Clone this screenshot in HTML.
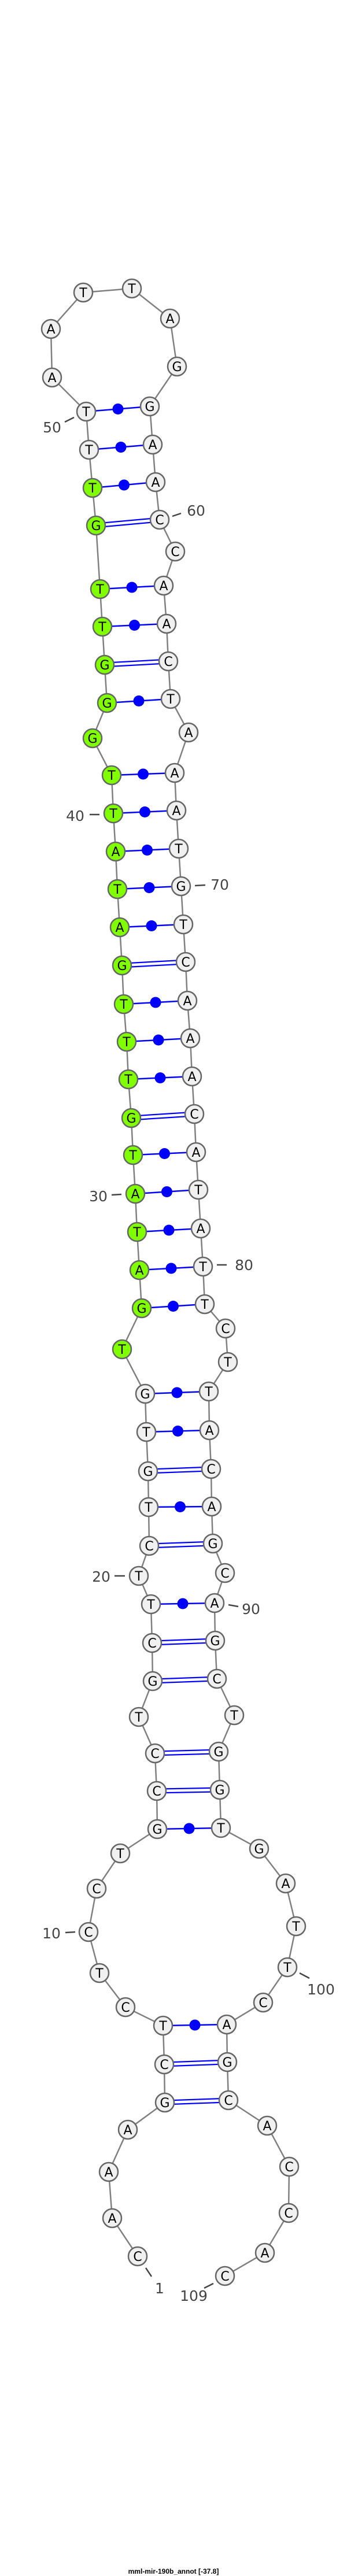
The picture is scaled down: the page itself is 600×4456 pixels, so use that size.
<!DOCTYPE html>
<html><head><meta charset="utf-8"><style>
html,body{margin:0;padding:0;background:#fff;}
svg{display:block;}
.n circle{stroke:#666;stroke-width:2.5;fill:#f0f0f0;}
.n circle.g{fill:#80ff00;}
.n text{font-family:"DejaVu Sans","Liberation Sans",sans-serif;font-size:22px;text-anchor:middle;fill:#000;}
.lb{font-family:"DejaVu Sans","Liberation Sans",sans-serif;font-size:25px;fill:#444;text-anchor:middle;}
</style></head><body>
<svg width="600" height="4456" viewBox="0 0 600 4456" xmlns="http://www.w3.org/2000/svg">
<polyline fill="none" stroke="#808080" stroke-width="2.5" points="238,3903 194,3837 188,3757 221,3684 285,3637 284,3571 282,3504 217,3472 172,3413 153,3342 167,3267 208,3206 272,3164 271,3098 268,3033 240,2970 264,2908 263,2842 261,2775 240,2726 258,2674 257,2607 256,2545 253,2477 251,2411 211,2334 245,2263 241,2197 237,2131 234,2065 230,1998 227,1934 222,1867 219,1802 214,1737 211,1670 207,1604 203,1538 200,1473 196,1407 193,1341 160,1277 185,1216 181,1150 177,1084 173,1019 166,909 160,844 154,778 149,712 90,653 88,569 144,506 228,499 294,551 306,634 259,703 264,769 269,834 276,899 303,954 283,1013 288,1079 291,1144 295,1209 326,1267 302,1337 305,1402 309,1468 313,1533 317,1599 321,1664 324,1731 329,1796 332,1862 336,1927 339,1993 343,2058 347,2125 351,2191 354,2256 390,2298 394,2356 361,2407 362,2474 365,2541 366,2606 368,2670 389,2721 371,2773 372,2838 375,2904 405,2967 378,3030 380,3096 382,3162 448,3198 494,3258 512,3332 497,3403 455,3464 392,3502 393,3567 395,3633 462,3677 500,3748 499,3828 458,3897 389,3937"/>
<!-- single pairs -->
<g stroke="#0000ff" stroke-width="2.5">
<line x1="282" y1="3504" x2="392" y2="3502"/>
<line x1="272" y1="3164" x2="382" y2="3162"/>
<line x1="261" y1="2775" x2="371" y2="2773"/>
<line x1="257" y1="2607" x2="366" y2="2606"/>
<line x1="253" y1="2477" x2="362" y2="2474"/>
<line x1="251" y1="2411" x2="361" y2="2407"/>
<line x1="245" y1="2263" x2="354" y2="2256"/>
<line x1="241" y1="2197" x2="351" y2="2191"/>
<line x1="237" y1="2131" x2="347" y2="2125"/>
<line x1="234" y1="2065" x2="343" y2="2058"/>
<line x1="230" y1="1998" x2="339" y2="1993"/>
<line x1="222" y1="1867" x2="332" y2="1862"/>
<line x1="219" y1="1802" x2="329" y2="1796"/>
<line x1="214" y1="1737" x2="324" y2="1731"/>
<line x1="207" y1="1604" x2="317" y2="1599"/>
<line x1="203" y1="1538" x2="313" y2="1533"/>
<line x1="200" y1="1473" x2="309" y2="1468"/>
<line x1="196" y1="1407" x2="305" y2="1402"/>
<line x1="193" y1="1341" x2="302" y2="1337"/>
<line x1="185" y1="1216" x2="295" y2="1209"/>
<line x1="177" y1="1084" x2="288" y2="1079"/>
<line x1="173" y1="1019" x2="283" y2="1013"/>
<line x1="160" y1="844" x2="269" y2="834"/>
<line x1="154" y1="778" x2="264" y2="769"/>
<line x1="149" y1="712" x2="259" y2="703"/>
</g>
<g fill="#0000ff">
<circle cx="337" cy="3503" r="9.5"/><circle cx="327" cy="3163" r="9.5"/><circle cx="316" cy="2774" r="9.5"/>
<circle cx="311.5" cy="2606.5" r="9.5"/><circle cx="307.5" cy="2475.5" r="9.5"/><circle cx="306" cy="2409" r="9.5"/>
<circle cx="299.5" cy="2259.5" r="9.5"/><circle cx="296" cy="2194" r="9.5"/><circle cx="292" cy="2128" r="9.5"/>
<circle cx="288.5" cy="2061.5" r="9.5"/><circle cx="284.5" cy="1995.5" r="9.5"/><circle cx="277" cy="1864.5" r="9.5"/>
<circle cx="274" cy="1799" r="9.5"/><circle cx="269" cy="1734" r="9.5"/><circle cx="262" cy="1601.5" r="9.5"/>
<circle cx="258" cy="1535.5" r="9.5"/><circle cx="254.5" cy="1470.5" r="9.5"/><circle cx="250.5" cy="1404.5" r="9.5"/>
<circle cx="247.5" cy="1339" r="9.5"/><circle cx="240" cy="1212.5" r="9.5"/><circle cx="232.5" cy="1081.5" r="9.5"/>
<circle cx="228" cy="1016" r="9.5"/><circle cx="214.5" cy="839" r="9.5"/><circle cx="209" cy="773.5" r="9.5"/>
<circle cx="204" cy="707.5" r="9.5"/>
</g>
<!-- double pairs -->
<g stroke="#0000ff" stroke-width="9">
<line x1="285" y1="3637" x2="395" y2="3633"/><line x1="284" y1="3571" x2="393" y2="3567"/>
<line x1="271" y1="3098" x2="380" y2="3096"/><line x1="268" y1="3033" x2="378" y2="3030"/>
<line x1="264" y1="2908" x2="375" y2="2904"/><line x1="263" y1="2842" x2="372" y2="2838"/>
<line x1="258" y1="2674" x2="368" y2="2670"/><line x1="256" y1="2545" x2="365" y2="2541"/>
<line x1="227" y1="1934" x2="336" y2="1927"/><line x1="211" y1="1670" x2="321" y2="1664"/>
<line x1="181" y1="1150" x2="291" y2="1144"/><line x1="166" y1="909" x2="276" y2="899"/>
</g>
<g stroke="#ffffff" stroke-width="4.5">
<line x1="285" y1="3637" x2="395" y2="3633"/><line x1="284" y1="3571" x2="393" y2="3567"/>
<line x1="271" y1="3098" x2="380" y2="3096"/><line x1="268" y1="3033" x2="378" y2="3030"/>
<line x1="264" y1="2908" x2="375" y2="2904"/><line x1="263" y1="2842" x2="372" y2="2838"/>
<line x1="258" y1="2674" x2="368" y2="2670"/><line x1="256" y1="2545" x2="365" y2="2541"/>
<line x1="227" y1="1934" x2="336" y2="1927"/><line x1="211" y1="1670" x2="321" y2="1664"/>
<line x1="181" y1="1150" x2="291" y2="1144"/><line x1="166" y1="909" x2="276" y2="899"/>
</g>
<!-- number ticks -->
<g stroke="#444" stroke-width="2.5">
<line x1="112" y1="730" x2="128" y2="722"/>
<line x1="298" y1="893" x2="313" y2="888"/>
<line x1="155" y1="1409" x2="172" y2="1409"/>
<line x1="337" y1="1532" x2="355" y2="1531"/>
<line x1="193" y1="2067" x2="210" y2="2066"/>
<line x1="375" y1="2188" x2="392" y2="2188"/>
<line x1="198" y1="2726" x2="216" y2="2726"/>
<line x1="395" y1="2776" x2="412" y2="2779"/>
<line x1="113" y1="3343" x2="130" y2="3342"/>
<line x1="518" y1="3413" x2="535" y2="3422"/>
<line x1="252" y1="3923" x2="262" y2="3938"/>
<line x1="353" y1="3958" x2="369" y2="3950"/>
</g>
<g class="lb">
<text x="90" y="748">50</text>
<text x="339" y="892">60</text>
<text x="130" y="1420">40</text>
<text x="380" y="1539">70</text>
<text x="170" y="2078">30</text>
<text x="422" y="2197">80</text>
<text x="175" y="2736">20</text>
<text x="434" y="2792">90</text>
<text x="89" y="3353">10</text>
<text x="555" y="3450">100</text>
<text x="276" y="3967">1</text>
<text x="335" y="3980">109</text>
</g>
<g class="n">
<circle cx="238" cy="3903" r="16"/><text x="238" y="3911">C</text>
<circle cx="194" cy="3837" r="16"/><text x="194" y="3845">A</text>
<circle cx="188" cy="3757" r="16"/><text x="188" y="3765">A</text>
<circle cx="221" cy="3684" r="16"/><text x="221" y="3692">A</text>
<circle cx="285" cy="3637" r="16"/><text x="285" y="3645">G</text>
<circle cx="284" cy="3571" r="16"/><text x="284" y="3579">C</text>
<circle cx="282" cy="3504" r="16"/><text x="282" y="3512">T</text>
<circle cx="217" cy="3472" r="16"/><text x="217" y="3480">C</text>
<circle cx="172" cy="3413" r="16"/><text x="172" y="3421">T</text>
<circle cx="153" cy="3342" r="16"/><text x="153" y="3350">C</text>
<circle cx="167" cy="3267" r="16"/><text x="167" y="3275">C</text>
<circle cx="208" cy="3206" r="16"/><text x="208" y="3214">T</text>
<circle cx="272" cy="3164" r="16"/><text x="272" y="3172">G</text>
<circle cx="271" cy="3098" r="16"/><text x="271" y="3106">C</text>
<circle cx="268" cy="3033" r="16"/><text x="268" y="3041">C</text>
<circle cx="240" cy="2970" r="16"/><text x="240" y="2978">T</text>
<circle cx="264" cy="2908" r="16"/><text x="264" y="2916">G</text>
<circle cx="263" cy="2842" r="16"/><text x="263" y="2850">C</text>
<circle cx="261" cy="2775" r="16"/><text x="261" y="2783">T</text>
<circle cx="240" cy="2726" r="16"/><text x="240" y="2734">T</text>
<circle cx="258" cy="2674" r="16"/><text x="258" y="2682">C</text>
<circle cx="257" cy="2607" r="16"/><text x="257" y="2615">T</text>
<circle cx="256" cy="2545" r="16"/><text x="256" y="2553">G</text>
<circle cx="253" cy="2477" r="16"/><text x="253" y="2485">T</text>
<circle cx="251" cy="2411" r="16"/><text x="251" y="2419">G</text>
<circle class="g" cx="211" cy="2334" r="16"/><text x="211" y="2342">T</text>
<circle class="g" cx="245" cy="2263" r="16"/><text x="245" y="2271">G</text>
<circle class="g" cx="241" cy="2197" r="16"/><text x="241" y="2205">A</text>
<circle class="g" cx="237" cy="2131" r="16"/><text x="237" y="2139">T</text>
<circle class="g" cx="234" cy="2065" r="16"/><text x="234" y="2073">A</text>
<circle class="g" cx="230" cy="1998" r="16"/><text x="230" y="2006">T</text>
<circle class="g" cx="227" cy="1934" r="16"/><text x="227" y="1942">G</text>
<circle class="g" cx="222" cy="1867" r="16"/><text x="222" y="1875">T</text>
<circle class="g" cx="219" cy="1802" r="16"/><text x="219" y="1810">T</text>
<circle class="g" cx="214" cy="1737" r="16"/><text x="214" y="1745">T</text>
<circle class="g" cx="211" cy="1670" r="16"/><text x="211" y="1678">G</text>
<circle class="g" cx="207" cy="1604" r="16"/><text x="207" y="1612">A</text>
<circle class="g" cx="203" cy="1538" r="16"/><text x="203" y="1546">T</text>
<circle class="g" cx="200" cy="1473" r="16"/><text x="200" y="1481">A</text>
<circle class="g" cx="196" cy="1407" r="16"/><text x="196" y="1415">T</text>
<circle class="g" cx="193" cy="1341" r="16"/><text x="193" y="1349">T</text>
<circle class="g" cx="160" cy="1277" r="16"/><text x="160" y="1285">G</text>
<circle class="g" cx="185" cy="1216" r="16"/><text x="185" y="1224">G</text>
<circle class="g" cx="181" cy="1150" r="16"/><text x="181" y="1158">G</text>
<circle class="g" cx="177" cy="1084" r="16"/><text x="177" y="1092">T</text>
<circle class="g" cx="173" cy="1019" r="16"/><text x="173" y="1027">T</text>
<circle class="g" cx="166" cy="909" r="16"/><text x="166" y="917">G</text>
<circle class="g" cx="160" cy="844" r="16"/><text x="160" y="852">T</text>
<circle cx="154" cy="778" r="16"/><text x="154" y="786">T</text>
<circle cx="149" cy="712" r="16"/><text x="149" y="720">T</text>
<circle cx="90" cy="653" r="16"/><text x="90" y="661">A</text>
<circle cx="88" cy="569" r="16"/><text x="88" y="577">A</text>
<circle cx="144" cy="506" r="16"/><text x="144" y="514">T</text>
<circle cx="228" cy="499" r="16"/><text x="228" y="507">T</text>
<circle cx="294" cy="551" r="16"/><text x="294" y="559">A</text>
<circle cx="306" cy="634" r="16"/><text x="306" y="642">G</text>
<circle cx="259" cy="703" r="16"/><text x="259" y="711">G</text>
<circle cx="264" cy="769" r="16"/><text x="264" y="777">A</text>
<circle cx="269" cy="834" r="16"/><text x="269" y="842">A</text>
<circle cx="276" cy="899" r="16"/><text x="276" y="907">C</text>
<circle cx="303" cy="954" r="16"/><text x="303" y="962">C</text>
<circle cx="283" cy="1013" r="16"/><text x="283" y="1021">A</text>
<circle cx="288" cy="1079" r="16"/><text x="288" y="1087">A</text>
<circle cx="291" cy="1144" r="16"/><text x="291" y="1152">C</text>
<circle cx="295" cy="1209" r="16"/><text x="295" y="1217">T</text>
<circle cx="326" cy="1267" r="16"/><text x="326" y="1275">A</text>
<circle cx="302" cy="1337" r="16"/><text x="302" y="1345">A</text>
<circle cx="305" cy="1402" r="16"/><text x="305" y="1410">A</text>
<circle cx="309" cy="1468" r="16"/><text x="309" y="1476">T</text>
<circle cx="313" cy="1533" r="16"/><text x="313" y="1541">G</text>
<circle cx="317" cy="1599" r="16"/><text x="317" y="1607">T</text>
<circle cx="321" cy="1664" r="16"/><text x="321" y="1672">C</text>
<circle cx="324" cy="1731" r="16"/><text x="324" y="1739">A</text>
<circle cx="329" cy="1796" r="16"/><text x="329" y="1804">A</text>
<circle cx="332" cy="1862" r="16"/><text x="332" y="1870">A</text>
<circle cx="336" cy="1927" r="16"/><text x="336" y="1935">C</text>
<circle cx="339" cy="1993" r="16"/><text x="339" y="2001">A</text>
<circle cx="343" cy="2058" r="16"/><text x="343" y="2066">T</text>
<circle cx="347" cy="2125" r="16"/><text x="347" y="2133">A</text>
<circle cx="351" cy="2191" r="16"/><text x="351" y="2199">T</text>
<circle cx="354" cy="2256" r="16"/><text x="354" y="2264">T</text>
<circle cx="390" cy="2298" r="16"/><text x="390" y="2306">C</text>
<circle cx="394" cy="2356" r="16"/><text x="394" y="2364">T</text>
<circle cx="361" cy="2407" r="16"/><text x="361" y="2415">T</text>
<circle cx="362" cy="2474" r="16"/><text x="362" y="2482">A</text>
<circle cx="365" cy="2541" r="16"/><text x="365" y="2549">C</text>
<circle cx="366" cy="2606" r="16"/><text x="366" y="2614">A</text>
<circle cx="368" cy="2670" r="16"/><text x="368" y="2678">G</text>
<circle cx="389" cy="2721" r="16"/><text x="389" y="2729">C</text>
<circle cx="371" cy="2773" r="16"/><text x="371" y="2781">A</text>
<circle cx="372" cy="2838" r="16"/><text x="372" y="2846">G</text>
<circle cx="375" cy="2904" r="16"/><text x="375" y="2912">C</text>
<circle cx="405" cy="2967" r="16"/><text x="405" y="2975">T</text>
<circle cx="378" cy="3030" r="16"/><text x="378" y="3038">G</text>
<circle cx="380" cy="3096" r="16"/><text x="380" y="3104">G</text>
<circle cx="382" cy="3162" r="16"/><text x="382" y="3170">T</text>
<circle cx="448" cy="3198" r="16"/><text x="448" y="3206">G</text>
<circle cx="494" cy="3258" r="16"/><text x="494" y="3266">A</text>
<circle cx="512" cy="3332" r="16"/><text x="512" y="3340">T</text>
<circle cx="497" cy="3403" r="16"/><text x="497" y="3411">T</text>
<circle cx="455" cy="3464" r="16"/><text x="455" y="3472">C</text>
<circle cx="392" cy="3502" r="16"/><text x="392" y="3510">A</text>
<circle cx="393" cy="3567" r="16"/><text x="393" y="3575">G</text>
<circle cx="395" cy="3633" r="16"/><text x="395" y="3641">C</text>
<circle cx="462" cy="3677" r="16"/><text x="462" y="3685">A</text>
<circle cx="500" cy="3748" r="16"/><text x="500" y="3756">C</text>
<circle cx="499" cy="3828" r="16"/><text x="499" y="3836">C</text>
<circle cx="458" cy="3897" r="16"/><text x="458" y="3905">A</text>
<circle cx="389" cy="3937" r="16"/><text x="389" y="3945">C</text>
</g>
<text x="300" y="4452" font-family="'Liberation Sans',sans-serif" font-size="12" font-weight="bold" text-anchor="middle" fill="#000">mml-mir-190b_annot [-37.8]</text>
</svg>
</body></html>
